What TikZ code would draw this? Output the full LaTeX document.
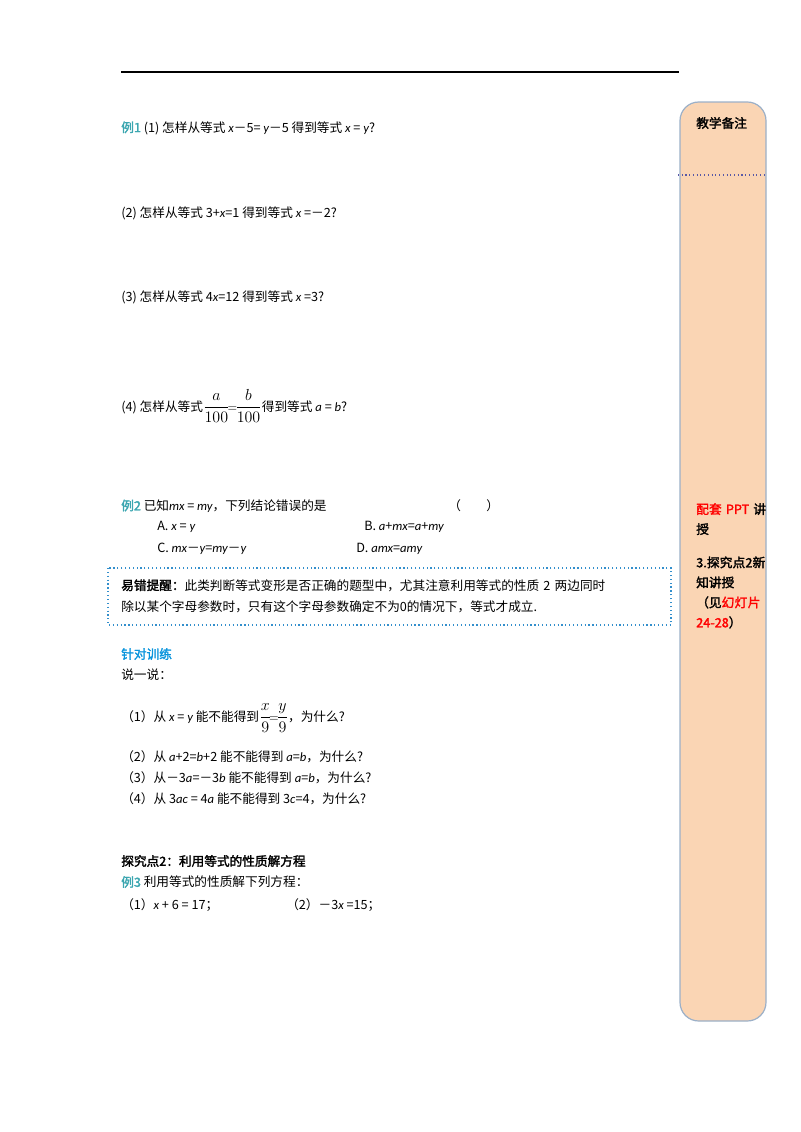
\documentclass[tikz,border=0pt]{standalone}
\usepackage{fontspec}
\setmainfont{Carlito}
\newfontfamily\cjk{Noto Sans CJK SC}
\newfontfamily\cjkb{Noto Sans CJK SC}[FakeBold=2]
\XeTeXlinebreaklocale "zh"
\XeTeXlinebreakskip=0pt plus 1pt
\newcommand{\vv}[1]{{\rmfamily\itshape #1}}
\newcommand{\bfr}[2]{\mbox{\fontsize{13pt}{14pt}\selectfont$\displaystyle\frac{#1}{#2}$}}
\definecolor{lab}{HTML}{3BA6B0}
\definecolor{peach}{HTML}{FAD5B4}
\definecolor{bord}{HTML}{9BB0C8}
\begin{document}
\begin{tikzpicture}[x=0.75pt,y=-0.75pt,
 t/.style={anchor=west,inner sep=0pt,font=\cjk\fontsize{9.5pt}{12pt}\selectfont}]
\useasboundingbox (0,0) rectangle (800,1132);
\draw[line width=0.8pt] (121,72) -- (679,72);
\path[fill=peach,draw=bord,rounded corners=14pt,line width=0.9pt] (680,102) rectangle (766,1021);
\draw[dotted,gray!70!blue,line width=0.8pt] (678,175) -- (766,175);
\node[t,font=\cjkb\fontsize{9.5pt}{12pt}\selectfont] (bz) at (696,123) {教学备注};
\node[anchor=north west,inner sep=0pt,text width=54pt,font=\cjkb\fontsize{9.5pt}{15pt}\selectfont,align=left] (side) at (696,503)
 {\textcolor{red}{配套 PPT} 讲授\\[10pt]3.探究点2新知讲授\\（见\textcolor{red}{幻灯片 24-28}）};
\node[t] (e1) at (121,128) {\textcolor{lab}{\cjkb 例1} (1)\ 怎样从等式 \vv{x}－5= \vv{y}－5\ 得到等式 \vv{x}\ =\ \vv{y}?};
\node[t] (e2) at (121,213) {(2)\ 怎样从等式 3+\vv{x}=1\ 得到等式 \vv{x}\ =－2?};
\node[t] (e3) at (121,297) {(3)\ 怎样从等式 4\vv{x}=12\ 得到等式 \vv{x}\ =3?};
\node[t] (e4) at (121,406) {(4)\ 怎样从等式\bfr{a}{100}$\!=\!$\bfr{b}{100}得到等式 \vv{a}\ =\ \vv{b}?};
\node[t] (ex2) at (121,506) {\textcolor{lab}{\cjkb 例2} 已知\vv{mx}\ =\ \vv{my}，下列结论错误的是};
\node[t] (par) at (448,506) {（\qquad）};
\node[t] (oa) at (157,527) {A.\ \vv{x}\ =\ \vv{y}};
\node[t] (ob) at (364,527) {B.\ \vv{a}+\vv{mx}=\vv{a}+\vv{my}};
\node[t] (oc) at (157,549) {C.\ \vv{mx}－\vv{y}=\vv{my}－\vv{y}};
\node[t] (od) at (356,549) {D.\ \vv{amx}=\vv{amy}};
\draw[dotted,blue!40!cyan!60!gray,line width=0.9pt] (108,568) rectangle (671,625);
\node[anchor=north west,inner sep=0pt,text width=412pt,font=\cjk\fontsize{9.5pt}{16pt}\selectfont] (tip) at (121,579)
 {{\cjkb 易错提醒：}此类判断等式变形是否正确的题型中，尤其注意利用等式的性质 2 两边同时\\除以某个字母参数时，只有这个字母参数确定不为0的情况下，等式才成立.};
\node[t,text=cyan!80!blue,font=\cjkb\fontsize{9.5pt}{12pt}\selectfont] (zd) at (121,654) {针对训练};
\node[t] (sy) at (121,675) {说一说：};
\node[t] (q1) at (121,718) {（1）从 \vv{x}\ =\ \vv{y}\ 能不能得到\bfr{x}{9}$\!=\!$\bfr{y}{9}，为什么?};
\node[t] (q2) at (121,757) {（2）从 \vv{a}+2=\vv{b}+2\ 能不能得到 \vv{a}=\vv{b}，为什么?};
\node[t] (q3) at (121,778) {（3）从－3\vv{a}=－3\vv{b}\ 能不能得到 \vv{a}=\vv{b}，为什么?};
\node[t] (q4) at (121,799) {（4）从 3\vv{ac}\ =\ 4\vv{a}\ 能不能得到 3\vv{c}=4，为什么?};
\node[t,font=\cjkb\fontsize{9.5pt}{12pt}\selectfont] (tj) at (121,861) {探究点2：利用等式的性质解方程};
\node[t] (ex3) at (121,882) {\textcolor{lab}{\cjkb 例3} 利用等式的性质解下列方程：};
\node[t] (s1) at (121,905) {（1）\vv{x}\ +\ 6\ =\ 17；};
\node[t] (s2) at (286,905) {（2）－3\vv{x}\ =15；};
\end{tikzpicture}
\end{document}
